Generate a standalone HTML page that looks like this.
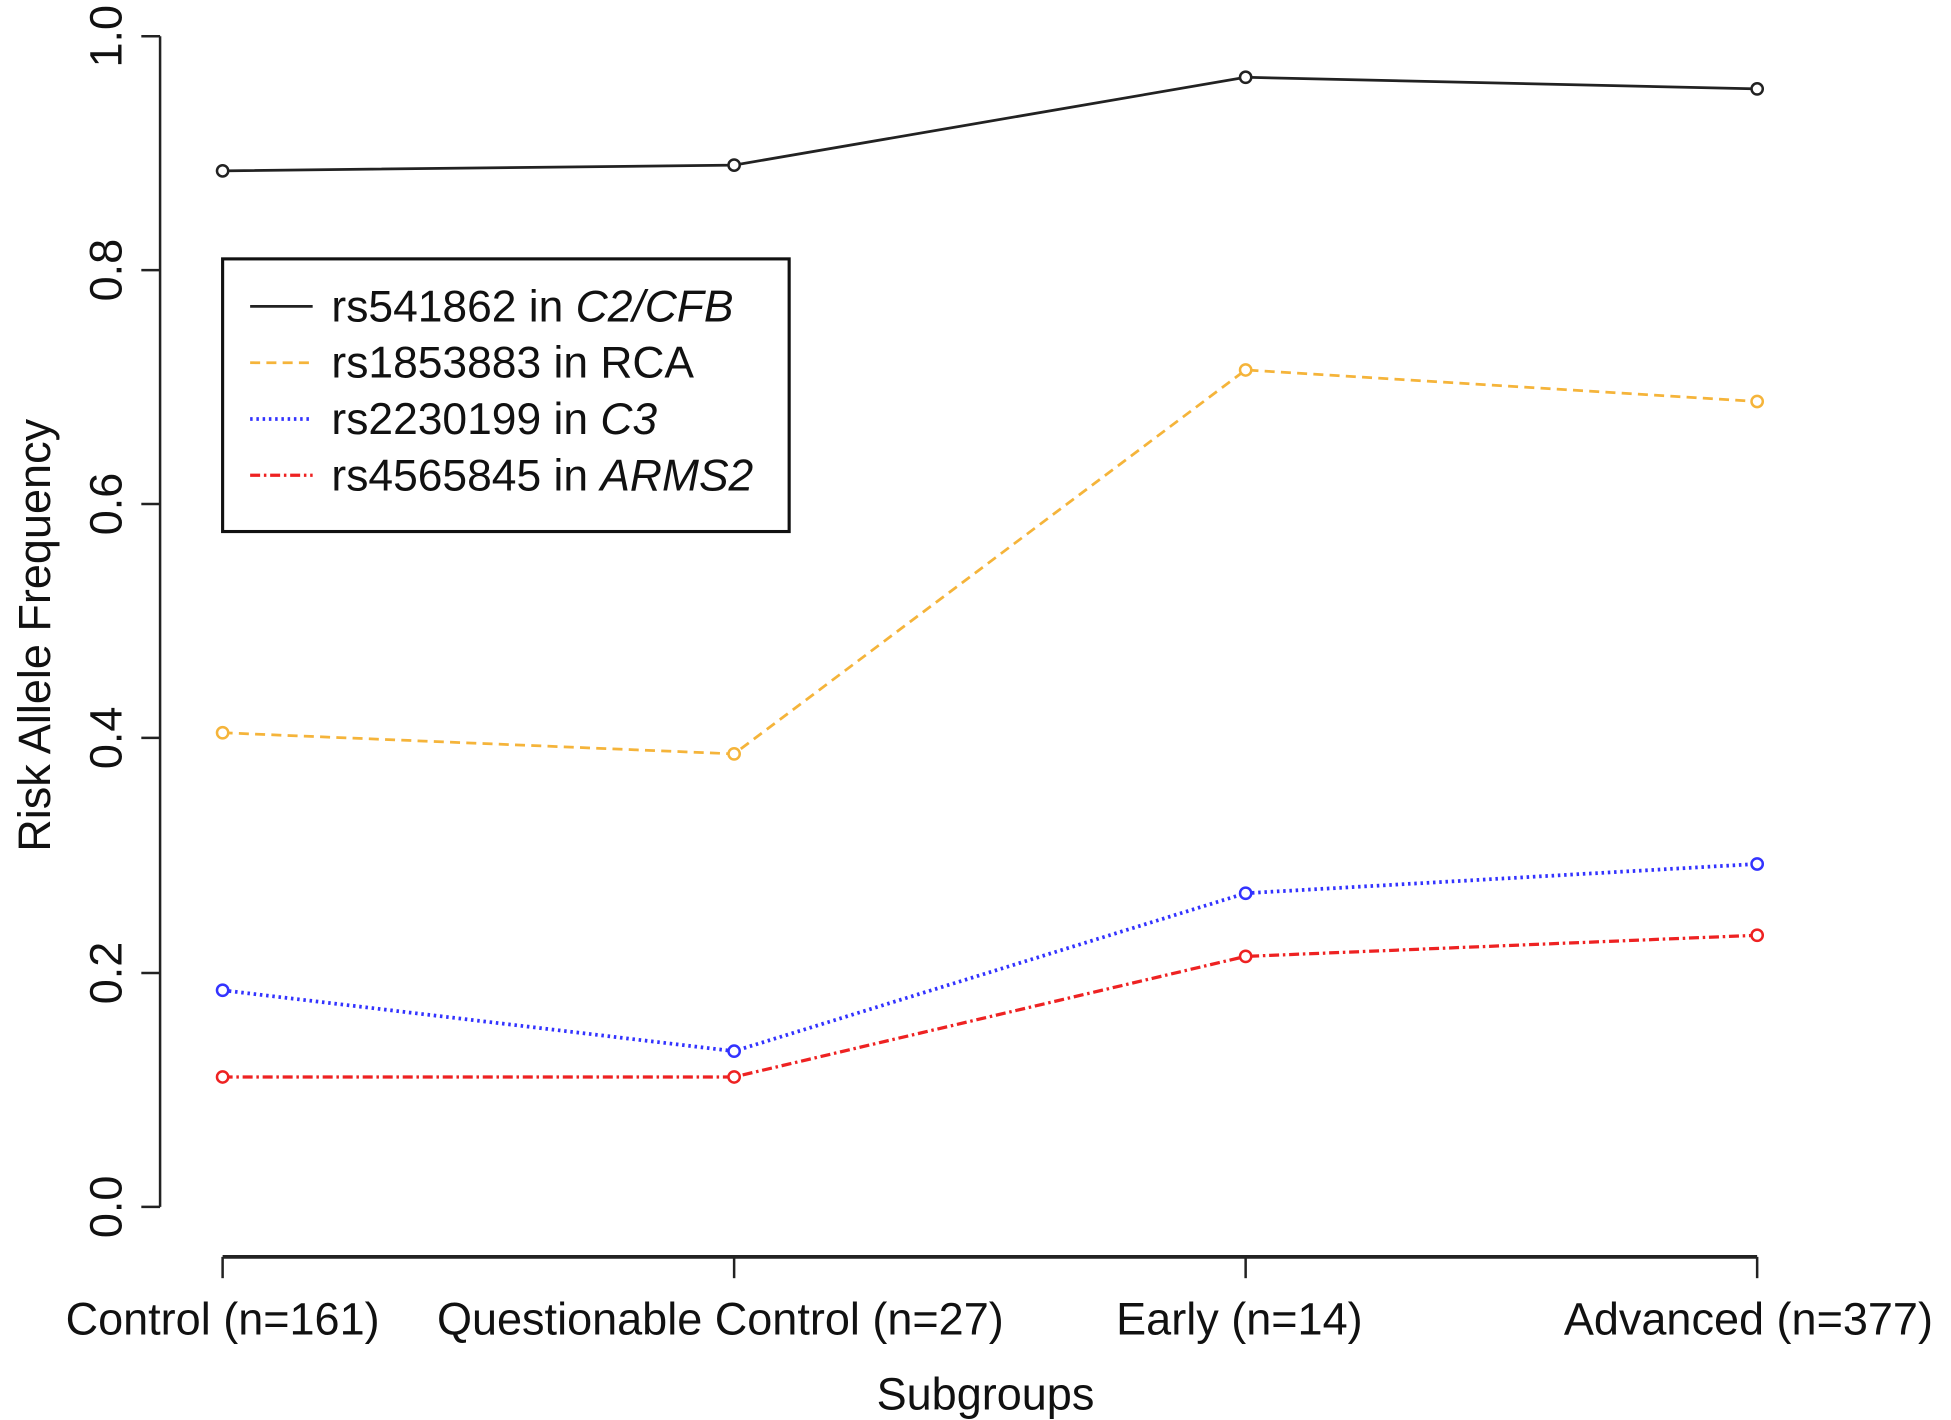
<!DOCTYPE html>
<html><head><style>html,body{margin:0;padding:0;background:#fff}svg{display:block}</style></head>
<body>
<svg width="1951" height="1420" viewBox="0 0 1560 1135.4" preserveAspectRatio="none" xmlns="http://www.w3.org/2000/svg" font-family="Liberation Sans, Arial, sans-serif">
<rect width="1560" height="1136" fill="#fff"/>
<g stroke="#222" stroke-width="2" fill="none">
<line x1="128" y1="29" x2="128" y2="965"/>
<line x1="113" y1="29" x2="128" y2="29"/>
<line x1="113" y1="216" x2="128" y2="216"/>
<line x1="113" y1="403" x2="128" y2="403"/>
<line x1="113" y1="590" x2="128" y2="590"/>
<line x1="113" y1="778" x2="128" y2="778"/>
<line x1="113" y1="965" x2="128" y2="965"/>
<line x1="178" y1="1005" x2="1405" y2="1005" stroke-width="3"/>
<line x1="178" y1="1005" x2="178" y2="1022"/>
<line x1="587" y1="1005" x2="587" y2="1022"/>
<line x1="996" y1="1005" x2="996" y2="1022"/>
<line x1="1405" y1="1005" x2="1405" y2="1022"/>
</g>
<g font-size="36" fill="#111" text-anchor="middle">
<text transform="translate(97,29) rotate(-90)">1.0</text>
<text transform="translate(97,216) rotate(-90)">0.8</text>
<text transform="translate(97,403) rotate(-90)">0.6</text>
<text transform="translate(97,590) rotate(-90)">0.4</text>
<text transform="translate(97,778) rotate(-90)">0.2</text>
<text transform="translate(97,965) rotate(-90)">0.0</text>
<text x="178" y="1067">Control (n=161)</text>
<text x="576" y="1067">Questionable Control (n=27)</text>
<text x="991" y="1067">Early (n=14)</text>
<text x="1398" y="1067">Advanced (n=377)</text>
<text x="788" y="1127">Subgroups</text>
<text transform="translate(40,508) rotate(-90)">Risk Allele Frequency</text>
</g>
<g fill="none" stroke-width="2.2">
<polyline stroke="#222" points="178,136.6 587,132 996,61.8 1405,71.1"/>
<polyline stroke="#f5b43a" stroke-dasharray="8,5" points="178,585.9 587,602.8 996,295.8 1405,321"/>
<polyline stroke="#3333ff" stroke-dasharray="2,3" stroke-width="3" points="178,791.8 587,840.5 996,714.2 1405,690.8"/>
<polyline stroke="#ee2222" stroke-dasharray="8,3,2,3" stroke-width="2.6" points="178,861.1 587,861.1 996,764.7 1405,747.8"/>
</g>
<g fill="#fff" stroke-width="2">
<g stroke="#222"><circle cx="178" cy="136.6" r="4.5"/><circle cx="587" cy="132" r="4.5"/><circle cx="996" cy="61.8" r="4.5"/><circle cx="1405" cy="71.1" r="4.5"/></g>
<g stroke="#f5b43a"><circle cx="178" cy="585.9" r="4.5"/><circle cx="587" cy="602.8" r="4.5"/><circle cx="996" cy="295.8" r="4.5"/><circle cx="1405" cy="321" r="4.5"/></g>
<g stroke="#3333ff"><circle cx="178" cy="791.8" r="4.5"/><circle cx="587" cy="840.5" r="4.5"/><circle cx="996" cy="714.2" r="4.5"/><circle cx="1405" cy="690.8" r="4.5"/></g>
<g stroke="#ee2222"><circle cx="178" cy="861.1" r="4.5"/><circle cx="587" cy="861.1" r="4.5"/><circle cx="996" cy="764.7" r="4.5"/><circle cx="1405" cy="747.8" r="4.5"/></g>
</g>
<rect x="178" y="207" width="453" height="218" fill="#fff" stroke="#111" stroke-width="2.5"/>
<g stroke-width="2.2">
<line x1="200" y1="245" x2="250" y2="245" stroke="#222"/>
<line x1="200" y1="290" x2="250" y2="290" stroke="#f5b43a" stroke-dasharray="8,5"/>
<line x1="200" y1="335" x2="250" y2="335" stroke="#3333ff" stroke-dasharray="2,3" stroke-width="3"/>
<line x1="200" y1="380" x2="250" y2="380" stroke="#ee2222" stroke-dasharray="8,3,2,3" stroke-width="2.6"/>
</g>
<g font-size="35.5" fill="#111">
<text x="265" y="257">rs541862 in <tspan font-style="italic">C2/CFB</tspan></text>
<text x="265" y="302">rs1853883 in RCA</text>
<text x="265" y="347">rs2230199 in <tspan font-style="italic">C3</tspan></text>
<text x="265" y="392">rs4565845 in <tspan font-style="italic">ARMS2</tspan></text>
</g>
</svg>
</body></html>
